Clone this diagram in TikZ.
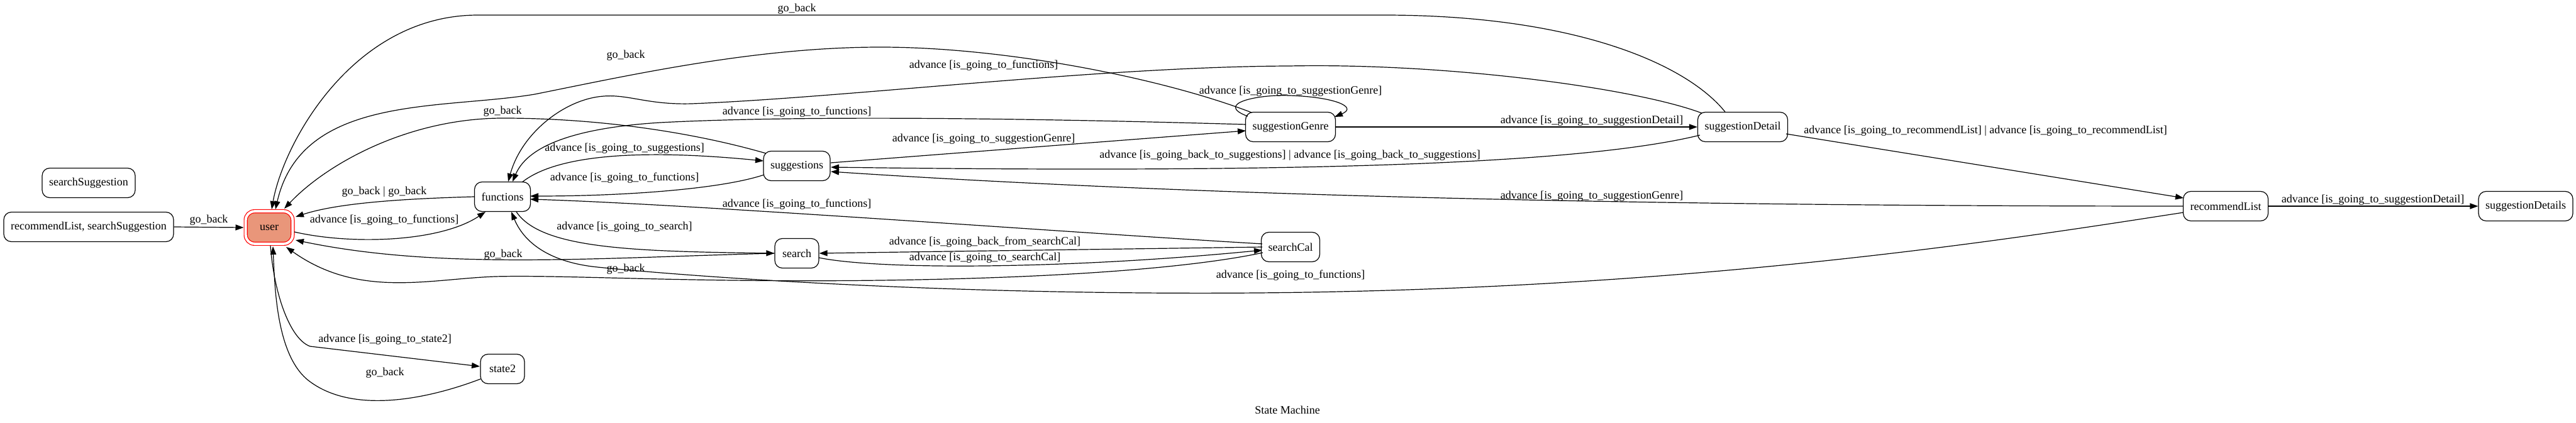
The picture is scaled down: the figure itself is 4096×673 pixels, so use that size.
\documentclass[tikz,border=0pt]{standalone}
\usepackage{fontspec}
\setmainfont{Liberation Serif}
\usetikzlibrary{arrows.meta}
\definecolor{dsalmon}{RGB}{233,150,122}
\begin{document}
\begin{tikzpicture}[x=0.5pt,y=-0.5pt,
  every node/.style={font=\fontsize{9}{10}\selectfont},
  state/.style={draw, line width=0.6pt, rounded corners=6pt, minimum height=23.5pt, minimum width=35pt, inner xsep=5.5pt, inner ysep=0pt},
  initstate/.style={state, draw=red, fill=dsalmon, double=white, double distance=2pt, minimum width=37.3pt, minimum height=25.8pt, rounded corners=7pt, outer sep=1.6pt},
  edge/.style={line width=0.6pt, -{Triangle[length=6.5pt,width=4.6pt]}},
  lbl/.style={inner sep=0pt},
]
\useasboundingbox (0,0) rectangle (4096,673);

% states
\node[state] (sS) at (141,291) {searchSuggestion};
\node[state] (rS) at (141,361) {recommendList, searchSuggestion};
\node[initstate] (user) at (428,362) {user};
\node[state] (functions) at (799,313) {functions};
\node[state] (state2) at (799,587) {state2};
\node[state] (suggestions) at (1267,264) {suggestions};
\node[state] (search) at (1267,403) {search};
\node[state] (suggestionGenre) at (2052,202) {suggestionGenre};
\node[state] (searchCal) at (2052,393) {searchCal};
\node[state] (suggestionDetail) at (2771,202) {suggestionDetail};
\node[state] (recommendList) at (3539,328) {recommendList};
\node[state] (suggestionDetails) at (4016,328) {suggestionDetails};

% edges
\draw[edge] (rS.east) -- (user.west);
\draw[edge] ([shift={(40,7)}]user.center) .. controls (560,390) and (700,385) .. ([shift={(-27,24)}]functions.center);
\draw[edge] (functions.west) .. controls (650,316) and (540,322) .. ([shift={(42,-17)}]user.center);
\draw[edge] ([shift={(2,29)}]user.center) .. controls (436,470) and (462,540) .. (493,551) -- ([shift={(-36,-4)}]state2.center);
\draw[edge] ([shift={(-35,16)}]state2.center) .. controls (680,635) and (560,660) .. (490,605) .. controls (440,565) and (437,460) .. ([shift={(6,30)}]user.center);
\draw[edge] (search.west) .. controls (950,410) and (700,430) .. ([shift={(42,20)}]user.center);
\draw[edge] ([shift={(-44,9)}]searchCal.center) .. controls (1900,425) and (1700,442) .. (1400,446) .. controls (1100,450) and (900,437) .. (787,440) .. controls (680,444) and (570,475) .. ([shift={(27,31)}]user.center);
\draw[edge] ([shift={(-49,-20)}]suggestions.center) .. controls (1100,210) and (950,188) .. (800,188) .. controls (650,188) and (520,260) .. ([shift={(24,-30)}]user.center);
\draw[edge] ([shift={(-62,-23)}]suggestionGenre.center) .. controls (1850,125) and (1600,75) .. (1400,75) .. controls (1200,75) and (1000,120) .. (850,150) .. controls (700,175) and (480,150) .. ([shift={(10,-29)}]user.center);
\draw[edge] ([shift={(-28,-24)}]suggestionDetail.center) .. controls (2680,100) and (2500,24) .. (2200,24) -- (760,24) .. controls (560,24) and (450,230) .. ([shift={(4,-29)}]user.center);
\draw[edge] ([shift={(31,-23)}]functions.center) .. controls (880,250) and (1000,235) .. ([shift={(-53,-8)}]suggestions.center);
\draw[edge] ([shift={(-52,14)}]suggestions.center) .. controls (1150,300) and (1000,312) .. ([shift={(44,-1)}]functions.center);
\draw[edge] ([shift={(22,24)}]functions.center) .. controls (860,395) and (1000,400) .. (search.west);
\draw[edge] ([shift={(-45,-5)}]searchCal.center) .. controls (1700,370) and (1100,325) .. ([shift={(44,4)}]functions.center);
\draw[edge] ([shift={(-71,-4)}]suggestionGenre.center) .. controls (1700,190) and (1300,182) .. (1050,195) .. controls (920,203) and (840,230) .. ([shift={(16,-24)}]functions.center);
\draw[edge] ([shift={(-65,-22)}]suggestionDetail.center) .. controls (2600,140) and (2300,100) .. (2050,105) .. controls (1750,106) and (1350,155) .. (1100,165) .. controls (1030,167) and (1000,150) .. (960,153) .. controls (900,157) and (830,210) .. ([shift={(9,-24)}]functions.center);
\draw[edge] ([shift={(-67,10)}]recommendList.center) .. controls (3200,380) and (2700,460) .. (2000,466) .. controls (1500,470) and (1100,440) .. (950,425) .. controls (880,418) and (835,390) .. ([shift={(14,24)}]functions.center);
\draw[edge] ([shift={(35,7)}]search.center) .. controls (1400,430) and (1700,428) .. ([shift={(-45,5)}]searchCal.center);
\draw[edge] ([shift={(-45,0)}]searchCal.center) .. controls (1800,396) and (1500,400) .. (search.east);
\draw[edge] ([shift={(54,-5)}]suggestions.center) -- ([shift={(-71,6)}]suggestionGenre.center);
\draw[edge] ([shift={(-68,-17)}]suggestionGenre.center) .. controls (1930,165) and (2000,150) .. (2050,152) .. controls (2120,154) and (2160,170) .. ([shift={(70,-16)}]suggestionGenre.center);
\draw[edge] (suggestionGenre.east) -- (suggestionDetail.west);
\draw[edge] ([shift={(-68,13)}]suggestionDetail.center) .. controls (2500,265) and (2000,275) .. ([shift={(54,2)}]suggestions.center);
\draw[edge] (recommendList.west) .. controls (2800,328) and (2000,318) .. ([shift={(54,9)}]suggestions.center);
\draw[edge] ([shift={(69,11)}]suggestionDetail.center) -- ([shift={(-67,-13)}]recommendList.center);
\draw[edge] (recommendList.east) -- (suggestionDetails.west);

% labels
\node[lbl] (l1) at (332,350) {go\_back};
\node[lbl] (l2) at (611,350) {advance [is\_going\_to\_functions]};
\node[lbl] (l3) at (611,305) {go\_back | go\_back};
\node[lbl] (l4) at (612,540) {advance [is\_going\_to\_state2]};
\node[lbl] (l5) at (612,593) {go\_back};
\node[lbl] (l6) at (800,405) {go\_back};
\node[lbl] (l7) at (995,428) {go\_back};
\node[lbl] (l8) at (799,177) {go\_back};
\node[lbl] (l9) at (995,88) {go\_back};
\node[lbl] (l10) at (1267,14) {go\_back};
\node[lbl] (l11) at (993,236) {advance [is\_going\_to\_suggestions]};
\node[lbl] (l12) at (993,283) {advance [is\_going\_to\_functions]};
\node[lbl] (l13) at (993,361) {advance [is\_going\_to\_search]};
\node[lbl] (l14) at (1267,325) {advance [is\_going\_to\_functions]};
\node[lbl] (l15) at (1267,178) {advance [is\_going\_to\_functions]};
\node[lbl] (l16) at (1564,104) {advance [is\_going\_to\_functions]};
\node[lbl] (l17) at (2052,438) {advance [is\_going\_to\_functions]};
\node[lbl] (l18) at (1566,410) {advance [is\_going\_to\_searchCal]};
\node[lbl] (l19) at (1566,385) {advance [is\_going\_back\_from\_searchCal]};
\node[lbl] (l20) at (1564,221) {advance [is\_going\_to\_suggestionGenre]};
\node[lbl] (l21) at (2052,145) {advance [is\_going\_to\_suggestionGenre]};
\node[lbl] (l22) at (2531,192) {advance [is\_going\_to\_suggestionDetail]};
\node[lbl] (l23) at (2051,247) {advance [is\_going\_back\_to\_suggestions] | advance [is\_going\_back\_to\_suggestions]};
\node[lbl] (l24) at (2531,312) {advance [is\_going\_to\_suggestionGenre]};
\node[lbl] (l25) at (3157,208) {advance [is\_going\_to\_recommendList] | advance [is\_going\_to\_recommendList]};
\node[lbl] (l26) at (3773,318) {advance [is\_going\_to\_suggestionDetail]};
\node[lbl] (title) at (2047,652) {State Machine};
\end{tikzpicture}
\end{document}
